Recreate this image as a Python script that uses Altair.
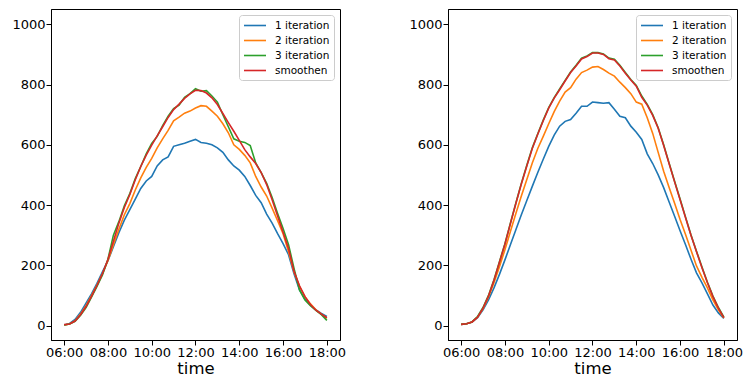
import altair as alt
import pandas as pd

times = [6.0, 6.25, 6.5, 6.75, 7.0, 7.25, 7.5, 7.75, 8.0, 8.25, 8.5, 8.75,
         9.0, 9.25, 9.5, 9.75, 10.0, 10.25, 10.5, 10.75, 11.0, 11.25, 11.5, 11.75,
         12.0, 12.25, 12.5, 12.75, 13.0, 13.25, 13.5, 13.75, 14.0, 14.25, 14.5, 14.75,
         15.0, 15.25, 15.5, 15.75, 16.0, 16.25, 16.5, 16.75, 17.0, 17.25, 17.5, 17.75, 18.0]

series_names = ["1 iteration", "2 iteration", "3 iteration", "smoothen"]
series_colors = ["#1f77b4", "#ff7f0e", "#2ca02c", "#d62728"]

# left panel
left_it1 = [2, 7, 20, 44, 74, 105, 140, 178, 215, 262, 308, 350, 385, 420, 455, 480, 495, 530, 550, 560,
            595, 600, 605, 612, 618, 608, 605, 600, 590, 575, 550, 530, 516, 495, 465, 432, 408, 370, 340, 305,
            272, 235, 172, 118, 88, 68, 52, 40, 30]
left_it2 = [2, 5, 16, 38, 66, 99, 134, 172, 215, 268, 320, 368, 405, 450, 490, 525, 555, 590, 620, 648,
            680, 692, 705, 712, 722, 730, 728, 712, 695, 670, 640, 600, 585, 565, 540, 495, 460, 430, 390, 348,
            305, 245, 178, 130, 96, 72, 52, 38, 25]
left_it3 = [2, 5, 14, 34, 60, 94, 130, 168, 220, 300, 345, 398, 438, 488, 528, 570, 605, 628, 664, 695,
            720, 732, 758, 770, 786, 778, 780, 762, 742, 700, 660, 620, 612, 608, 598, 540, 508, 472, 425, 372,
            322, 268, 190, 118, 85, 66, 50, 36, 17]
left_smooth = [3, 5, 15, 36, 63, 97, 133, 172, 219, 280, 340, 392, 435, 484, 528, 566, 599, 630, 660, 691,
               717, 735, 754, 769, 781, 780, 772, 756, 734, 704, 674, 645, 615, 584, 560, 538, 508, 468, 418, 364,
               310, 256, 180, 132, 96, 70, 51, 38, 26]

# right panel
right_it1 = [4, 6, 12, 26, 52, 85, 125, 170, 218, 268, 318, 368, 415, 462, 508, 552, 595, 632, 662, 678,
             684, 705, 728, 728, 742, 740, 738, 740, 718, 695, 690, 662, 642, 618, 570, 538, 500, 458, 410, 363,
             315, 268, 220, 175, 142, 105, 68, 42, 24]
right_it2 = [4, 6, 12, 28, 56, 95, 142, 195, 252, 312, 372, 430, 485, 540, 588, 628, 670, 710, 745, 775,
             790, 818, 840, 848, 858, 860, 850, 838, 828, 808, 790, 770, 742, 735, 690, 638, 575, 512, 458, 406,
             352, 302, 250, 198, 160, 125, 85, 52, 25]
right_it3 = [4, 6, 12, 30, 60, 100, 152, 212, 272, 340, 407, 472, 532, 590, 637, 682, 724, 757, 786, 814,
             842, 864, 888, 895, 906, 906, 902, 888, 884, 864, 840, 817, 797, 762, 734, 700, 657, 600, 539, 479,
             420, 360, 301, 247, 194, 144, 98, 60, 28]
right_smooth = [4, 6, 12, 28, 58, 98, 150, 210, 270, 338, 405, 470, 530, 588, 635, 680, 722, 755, 783, 812,
                840, 862, 885, 893, 905, 905, 900, 886, 882, 862, 838, 815, 795, 758, 732, 698, 655, 598, 537, 477,
                418, 358, 299, 245, 192, 142, 96, 58, 26]


def build(lists):
    rows = []
    for name, vals in zip(series_names, lists):
        for t, v in zip(times, vals):
            rows.append({"time": t, "value": v, "series": name})
    return pd.DataFrame(rows)


left_df = build([left_it1, left_it2, left_it3, left_smooth])
right_df = build([right_it1, right_it2, right_it3, right_smooth])


def panel(df):
    return alt.Chart(df).mark_line(strokeWidth=1.6).encode(
        x=alt.X("time:Q",
                scale=alt.Scale(domain=[5.4, 18.6], nice=False, zero=False),
                axis=alt.Axis(values=[6, 8, 10, 12, 14, 16, 18],
                              labelExpr="(datum.value < 10 ? '0' : '') + datum.value + ':00'",
                              title="time", grid=False, labelFlush=False)),
        y=alt.Y("value:Q",
                scale=alt.Scale(domain=[-48, 1051], nice=False, zero=False),
                axis=alt.Axis(values=[0, 200, 400, 600, 800, 1000], format="d",
                              title=None, grid=False)),
        color=alt.Color("series:N",
                        scale=alt.Scale(domain=series_names, range=series_colors),
                        legend=alt.Legend(title=None, orient="top-right", offset=6)),
    ).properties(width=289, height=331)


chart = alt.hconcat(panel(left_df), panel(right_df), spacing=61).resolve_scale(
    color="independent"
).properties(
    padding={"left": 3, "top": 0, "right": 0, "bottom": 0}
).configure_view(
    stroke="black", strokeWidth=1
).configure_axis(
    domainColor="black", tickColor="black", labelColor="black",
    labelFont="DejaVu Sans", labelFontSize=13, titleFont="DejaVu Sans",
    titleFontSize=16.5, titleFontWeight="normal", titleColor="black",
    tickSize=5, labelPadding=1, titlePadding=1
).configure_legend(
    labelFont="DejaVu Sans", labelFontSize=10.5, labelColor="black",
    symbolType="M-1,0L3,0", symbolSize=121, symbolStrokeWidth=1.6,
    strokeColor="#cccccc", fillColor="white", cornerRadius=3,
    padding=4, labelOffset=19, rowPadding=3
)

chart.save("out.html", embed_options={"renderer": "svg", "actions": False})
